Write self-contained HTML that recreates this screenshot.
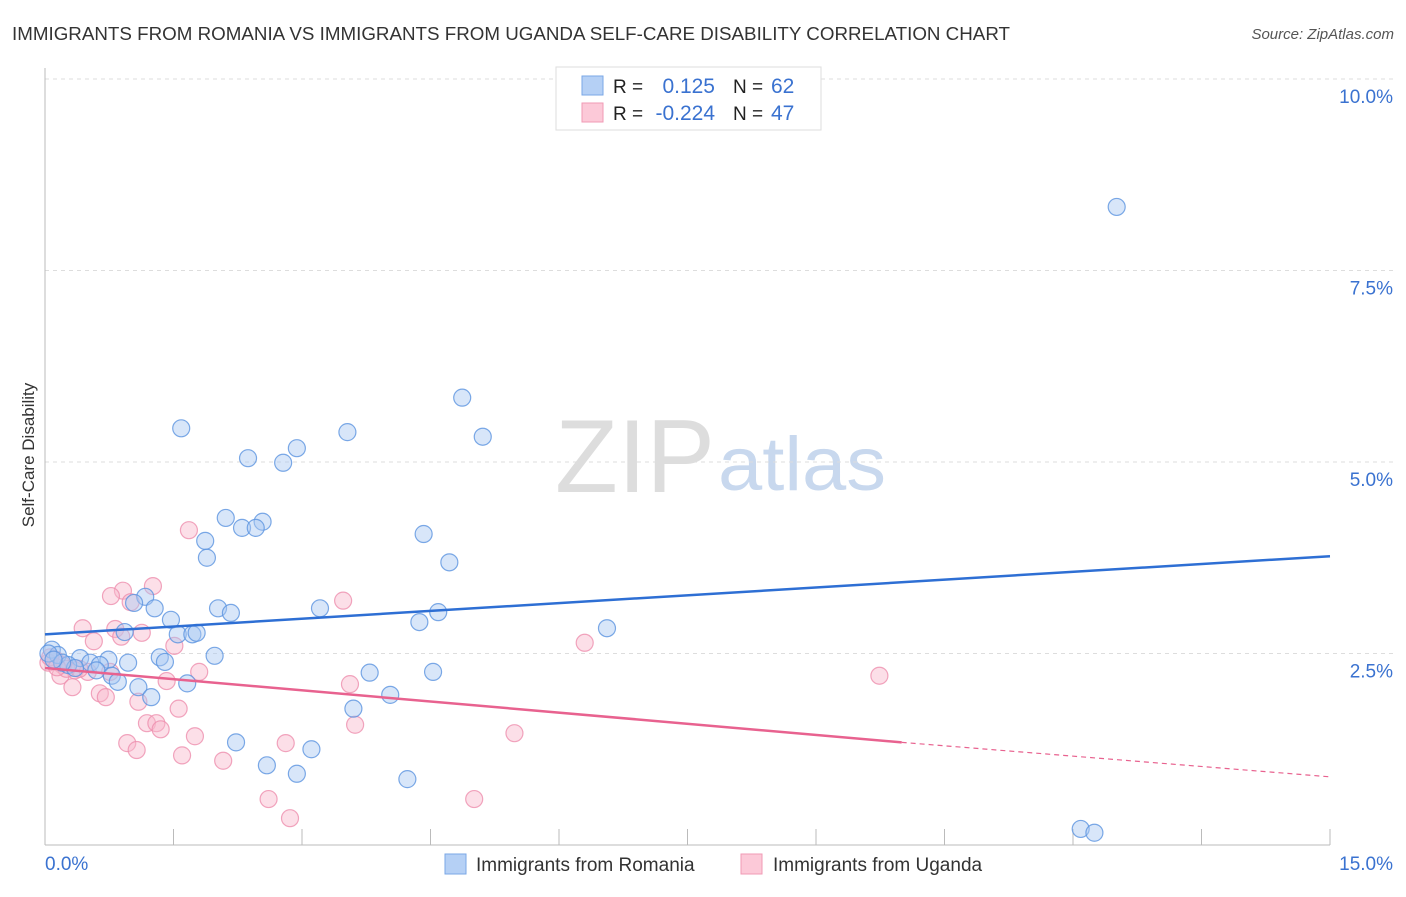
<!DOCTYPE html>
<html><head><meta charset="utf-8"><style>
body{margin:0;background:#fff;font-family:"Liberation Sans",sans-serif;}
svg text{font-family:"Liberation Sans",sans-serif;}
</style></head><body>
<svg id="chart" width="1406" height="892" xmlns="http://www.w3.org/2000/svg">
<text x="12" y="40" font-size="18" fill="#333" textLength="998" lengthAdjust="spacingAndGlyphs">IMMIGRANTS FROM ROMANIA VS IMMIGRANTS FROM UGANDA SELF-CARE DISABILITY CORRELATION CHART</text>
<text x="1394" y="39" font-size="15" fill="#555" font-style="italic" text-anchor="end">Source: ZipAtlas.com</text>
<text x="555" y="492" font-size="104" fill="#ddd" textLength="160" lengthAdjust="spacingAndGlyphs" font-family="Liberation Serif">ZIP</text>
<text x="718" y="490" font-size="76" fill="#c8d8ee" textLength="168" lengthAdjust="spacingAndGlyphs">atlas</text>
<text x="34" y="455" font-size="17" fill="#333" text-anchor="middle" transform="rotate(-90 34 455)">Self-Care Disability</text>
<g id="grid"></g><g id="marks"></g>
<g>
<rect x="556" y="67" width="265" height="63" fill="#fff" stroke="#ddd"/>
<rect x="582" y="76" width="21" height="19" fill="#b5d0f5" stroke="#7aa7e6"/>
<rect x="582" y="103" width="21" height="19" fill="#fcc9d8" stroke="#f09ab5"/>
<text x="613" y="93" font-size="19" fill="#222">R =</text>
<text x="715" y="93" font-size="21" fill="#3a72d0" text-anchor="end">0.125</text>
<text x="733" y="93" font-size="19" fill="#222">N =</text>
<text x="771" y="93" font-size="21" fill="#3a72d0">62</text>
<text x="613" y="120" font-size="19" fill="#222">R =</text>
<text x="715" y="120" font-size="21" fill="#3a72d0" text-anchor="end">-0.224</text>
<text x="733" y="120" font-size="19" fill="#222">N =</text>
<text x="771" y="120" font-size="21" fill="#3a72d0">47</text>
</g>
<g>
<rect x="445" y="854" width="21" height="20" fill="#b5d0f5" stroke="#7aa7e6"/>
<text x="476" y="871" font-size="19" fill="#333">Immigrants from Romania</text>
<rect x="741" y="854" width="21" height="20" fill="#fcc9d8" stroke="#f09ab5"/>
<text x="773" y="871" font-size="19" fill="#333">Immigrants from Uganda</text>
</g>
</svg>
<script>
const yTicks=[2.5,5.0,7.5,10.0];
const yTickLabels=["2.5%","5.0%","7.5%","10.0%"];
const xTicks=[0,1.5,3,4.5,6,7.5,9,10.5,12,13.5,15];
const xEndLabels=["0.0%","15.0%"];
const romaniaX=[12.51,4.87,1.59,3.53,5.11,2.94,2.37,2.78,2.11,2.54,2.30,2.46,4.42,1.87,4.72,1.89,1.17,1.04,1.28,2.02,2.17,3.21,4.59,4.37,1.47,6.56,0.93,1.55,1.72,1.77,0.08,0.15,0.41,0.74,1.34,1.98,1.40,0.97,0.53,0.64,0.27,0.35,0.60,3.79,4.53,0.78,0.85,1.66,1.09,1.24,4.03,3.60,2.23,3.11,2.59,2.94,4.23,12.09,12.25,0.04,0.20,0.10];
const romaniaY=[8.33,5.84,5.44,5.39,5.33,5.18,5.05,4.99,4.27,4.22,4.14,4.14,4.06,3.97,3.69,3.75,3.24,3.16,3.09,3.09,3.03,3.09,3.04,2.91,2.94,2.83,2.78,2.75,2.75,2.77,2.55,2.48,2.44,2.42,2.45,2.47,2.39,2.38,2.38,2.35,2.35,2.31,2.28,2.25,2.26,2.21,2.13,2.11,2.06,1.93,1.96,1.78,1.34,1.25,1.04,0.93,0.86,0.21,0.16,2.50,2.38,2.42];
const ugandaX=[1.68,1.26,0.91,0.77,1.00,3.48,0.44,0.82,1.13,0.89,0.57,1.51,6.30,0.12,0.20,0.35,0.50,0.18,0.76,1.80,9.74,1.42,0.32,3.56,0.64,0.71,1.09,1.56,1.19,1.30,1.35,3.62,5.48,1.75,0.96,1.07,1.60,2.08,2.81,2.61,5.01,2.86,0.04,0.25,0.06,0.40,0.14];
const ugandaY=[4.11,3.38,3.32,3.25,3.17,3.19,2.83,2.82,2.77,2.72,2.66,2.60,2.64,2.42,2.35,2.28,2.26,2.21,2.26,2.26,2.21,2.14,2.06,2.10,1.98,1.93,1.87,1.78,1.59,1.59,1.51,1.57,1.46,1.42,1.33,1.24,1.17,1.10,1.33,0.60,0.60,0.35,2.38,2.30,2.45,2.30,2.32];
const romaniaTrend=[2.75,3.77];
const ugandaTrend=[2.31,1.34,0.89];
const ugandaSolidEnd=10.0;
const X0=45,X1=1330,Y0=845,Y10=79;
const sx=v=>X0+(X1-X0)*v/15;
const sy=v=>Y0-(Y0-Y10)*v/10;
const NS="http://www.w3.org/2000/svg";
const grid=document.getElementById('grid'),marks=document.getElementById('marks');
function mk(p,tag,attrs){const e=document.createElementNS(NS,tag);for(const k in attrs)e.setAttribute(k,attrs[k]);p.appendChild(e);return e;}
yTicks.forEach((t,i)=>{
 const l=mk(grid,'line',{x1:X0,x2:1394,y1:sy(t),y2:sy(t),stroke:'#ddd','stroke-dasharray':'4,4'});
 
 
 const tx=mk(grid,'text',{x:1393,y:sy(t)+24,'font-size':19,fill:'#3a72d0','text-anchor':'end'});
 tx.textContent=yTickLabels[i];
 
 
});
const ax=mk(grid,'line',{x1:X0,x2:X0,y1:68,y2:Y0,stroke:'#bbb'});


const bx=mk(grid,'line',{x1:X0,x2:X1,y1:Y0,y2:Y0,stroke:'#bbb'});


xTicks.forEach(t=>{
 const l=mk(grid,'line',{x1:sx(t),x2:sx(t),y1:Y0-16,y2:Y0,stroke:'#bbb'});
 
 
});
const xl0=mk(grid,'text',{x:45,y:870,'font-size':19,fill:'#3a72d0'});xl0.textContent=xEndLabels[0];


const xl1=mk(grid,'text',{x:1393,y:870,'font-size':19,fill:'#3a72d0','text-anchor':'end'});xl1.textContent=xEndLabels[1];


function pts(xs,ys,fill,stroke,name){xs.forEach((x,i)=>{
 const c=mk(marks,'circle',{cx:sx(x),cy:sy(ys[i]),r:8.5,fill:fill,'fill-opacity':0.45,stroke:stroke,'stroke-opacity':0.8,'stroke-width':1.2});
 
 
});}
pts(ugandaX,ugandaY,'#f9b9cd','#ee8fae','point-uganda');
pts(romaniaX,romaniaY,'#a9c8f2','#5b93e0','point-romania');
const t1=mk(marks,'line',{x1:sx(0),y1:sy(romaniaTrend[0]),x2:sx(15),y2:sy(romaniaTrend[1]),stroke:'#2e6fd4','stroke-width':2.5});


const t2=mk(marks,'line',{x1:sx(0),y1:sy(ugandaTrend[0]),x2:sx(ugandaSolidEnd),y2:sy(ugandaTrend[1]),stroke:'#e8628f','stroke-width':2.5});


const t3=mk(marks,'line',{x1:sx(ugandaSolidEnd),y1:sy(ugandaTrend[1]),x2:sx(15),y2:sy(ugandaTrend[2]),stroke:'#e8628f','stroke-width':1.2,'stroke-dasharray':'5,4'});


</script>
</body></html>
